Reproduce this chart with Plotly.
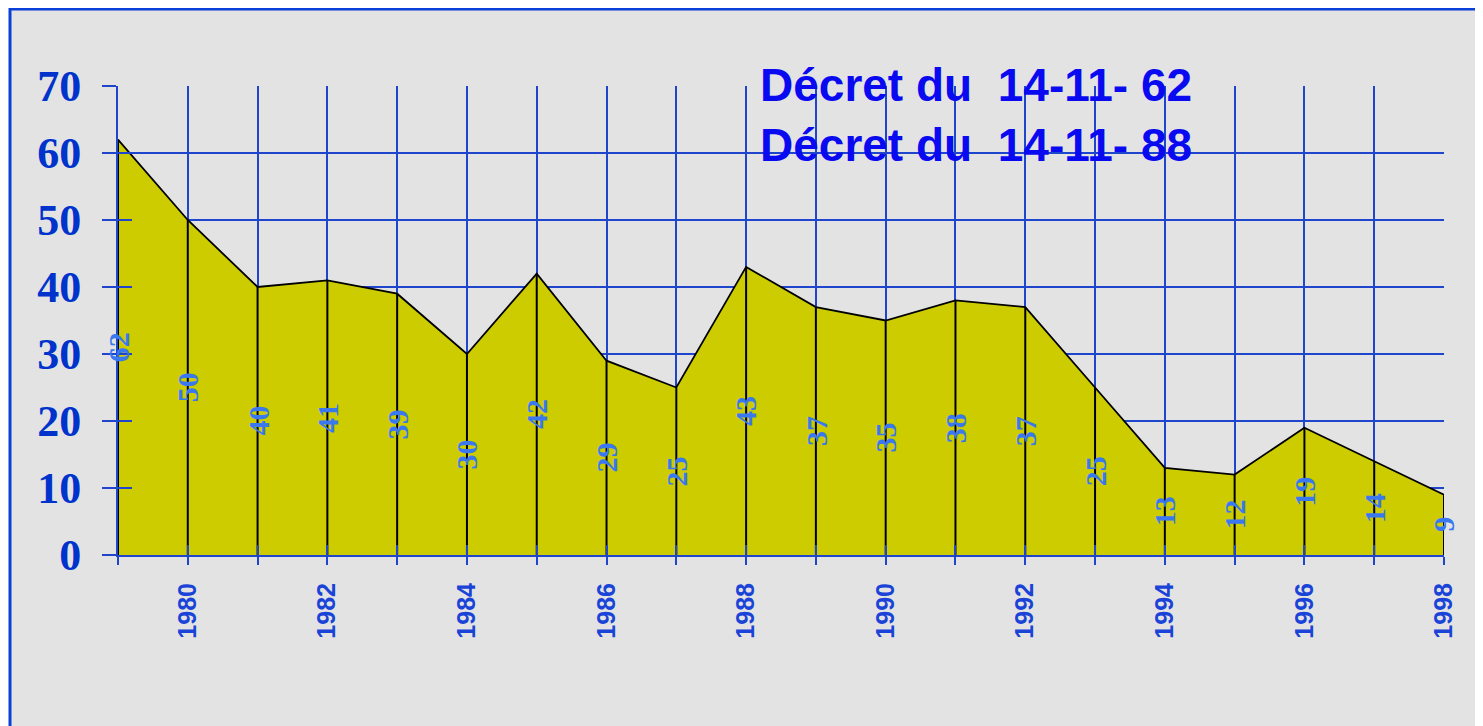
import plotly.graph_objects as go

years = list(range(1979, 1999))
values = [62, 50, 40, 41, 39, 30, 42, 29, 25, 43, 37, 35, 38, 37, 25, 13, 12, 19, 14, 9]
x_tick_labels = [str(y) if y % 2 == 0 else "" for y in years]
y_ticks = [0, 10, 20, 30, 40, 50, 60, 70]
title_lines = ["Décret du  14-11- 62", "Décret du  14-11- 88"]

GRID = "#1f45cc"
OFF = 8  # page body margin
W, H = 1483 - OFF, 726 - OFF
PL, PR, PT, PB = 118, 1444, 86, 555  # plot area in page px
L, R, T, B = PL - OFF, (OFF + W) - PR, PT - OFF, (OFF + H) - PB
pw, ph = PR - PL, PB - PT


def px_x(px):
    return (px - PL) / pw


def px_y(py):
    return (PB - py) / ph


fig = go.Figure()

fig.add_trace(go.Scatter(
    x=years, y=values, mode="lines", fill="tozeroy",
    fillcolor="#cccc00", line=dict(color="black", width=1.8),
    hoverinfo="skip", showlegend=False))

vx, vy = [], []
for yr, v in zip(years, values):
    vx += [yr, yr, None]
    vy += [0, v, None]
fig.add_trace(go.Scatter(x=vx, y=vy, mode="lines",
                         line=dict(color="black", width=2),
                         hoverinfo="skip", showlegend=False))

# invisible trace on overlay axes (for inside ticks)
fig.add_trace(go.Scatter(x=[years[0]], y=[0], xaxis="x2", yaxis="y2",
                         mode="markers", marker=dict(opacity=0),
                         hoverinfo="skip", showlegend=False))

for yr, v in zip(years, values):
    fig.add_annotation(x=yr, y=v / 2, xref="x", yref="y", text=str(v),
                       textangle=-90, showarrow=False,
                       font=dict(family="Liberation Serif", size=30,
                                 weight="bold", color="#3a78f0"))

fig.add_annotation(x=px_x(758), y=px_y(115), xref="paper", yref="paper",
                   xanchor="left", yanchor="middle", align="left",
                   text="<br>".join(title_lines), showarrow=False,
                   font=dict(family="Liberation Sans", size=46, weight="bold",
                             color="#0a0af0"))

fig.add_shape(type="rect", xref="paper", yref="paper", layer="below",
              x0=px_x(10), x1=px_x(1500),
              y0=px_y(745), y1=px_y(9),
              line=dict(color="#0a3fd8", width=3), fillcolor="#e3e3e3")

fig.update_layout(
    width=W, height=H,
    margin=dict(l=L, r=R, t=T, b=B),
    paper_bgcolor="white", plot_bgcolor="rgba(0,0,0,0)",
    xaxis=dict(range=[1979, 1998], tickvals=years, ticktext=x_tick_labels,
               tickangle=-90, ticks="outside", ticklen=8, tickwidth=1.5,
               tickcolor=GRID, showgrid=True, gridcolor=GRID, gridwidth=1.5,
               showline=True, linecolor=GRID, linewidth=2, zeroline=False,
               ticklabelstandoff=8,
               tickfont=dict(family="Liberation Sans", size=25, weight="bold",
                             color="#1a44d8")),
    yaxis=dict(range=[0, 70], tickvals=y_ticks, ticks="outside", ticklen=14,
               tickwidth=1.5, tickcolor=GRID, showgrid=True, gridcolor=GRID,
               gridwidth=1.5, showline=True, linecolor=GRID, linewidth=2,
               zeroline=False, ticklabelstandoff=12,
               tickfont=dict(family="Liberation Serif", size=44, weight="bold",
                             color="#0033cc")),
    xaxis2=dict(overlaying="x", matches="x", range=[1979, 1998], tickvals=years,
                ticks="inside", ticklen=10, tickwidth=1.5, tickcolor=GRID,
                showticklabels=False, showgrid=False, zeroline=False,
                showline=False, side="bottom"),
    yaxis2=dict(overlaying="y", matches="y", range=[0, 70], tickvals=y_ticks,
                ticks="inside", ticklen=14, tickwidth=1.5, tickcolor=GRID,
                showticklabels=False, showgrid=False, zeroline=False,
                showline=False, side="left"),
)

fig.write_html("out.html")
